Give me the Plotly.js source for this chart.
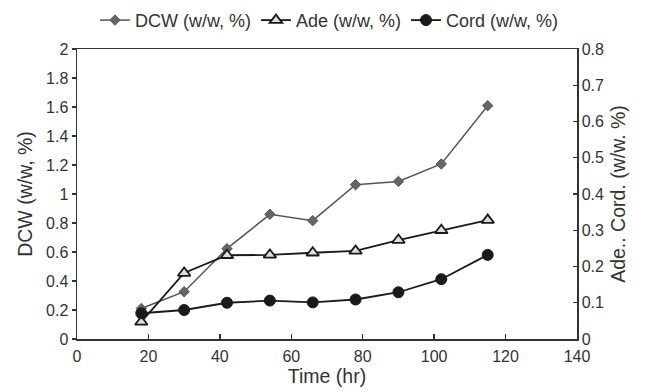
<!DOCTYPE html>
<html>
<head>
<meta charset="utf-8">
<script src="https://cdn.plot.ly/plotly-3.0.1.min.js"></script>
<style>html,body{margin:0;padding:0;background:#fff}#chart{width:646px;height:392px}</style>
</head>
<body>
<div id="chart"></div>
<script>
const timeHr = [18, 30, 42, 54, 66, 78, 90, 102, 115];
const dcw = [0.21, 0.326, 0.623, 0.86, 0.816, 1.064, 1.087, 1.207, 1.609];
const ade = [0.047, 0.182, 0.231, 0.232, 0.238, 0.243, 0.273, 0.30, 0.328];
const cord = [0.071, 0.08, 0.1, 0.106, 0.101, 0.109, 0.129, 0.165, 0.232];
const xTicks = [0, 20, 40, 60, 80, 100, 120, 140];

const font = {family: 'Liberation Sans, Arial, sans-serif', color: '#333'};

const traces = [
  {x: timeHr, y: dcw, name: 'DCW (w/w, %)', type: 'scatter', mode: 'lines+markers',
   line: {color: '#555', width: 1.5},
   marker: {symbol: 'diamond', size: 8, color: '#666', line: {color: '#555', width: 1}}},
  {x: timeHr, y: ade, name: 'Ade (w/w, %)', type: 'scatter', mode: 'lines+markers', yaxis: 'y2',
   line: {color: '#1a1a1a', width: 1.8},
   marker: {symbol: 'triangle-up', size: 11, color: '#ddd', line: {color: '#1a1a1a', width: 1.8}}},
  {x: timeHr, y: cord, name: 'Cord (w/w, %)', type: 'scatter', mode: 'lines+markers', yaxis: 'y2',
   line: {color: '#1a1a1a', width: 1.8},
   marker: {symbol: 'circle', size: 11, color: '#1a1a1a', line: {color: '#1a1a1a', width: 1}}}
];

const layout = {
  width: 646, height: 392,
  margin: {l: 77, r: 69, t: 49, b: 53, autoexpand: false},
  paper_bgcolor: '#fff', plot_bgcolor: '#fff',
  font: Object.assign({size: 16}, font),
  showlegend: true,
  legend: {orientation: 'h', xref: 'container', yref: 'container',
           x: 0.51, xanchor: 'center', y: 0.948, yanchor: 'middle',
           font: Object.assign({size: 18}, font), itemwidth: 30, tracegroupgap: 0},
  xaxis: {range: [0, 140], tickvals: xTicks, ticktext: xTicks.map(String),
          ticks: 'inside', ticklen: 5, tickcolor: '#333', tickwidth: 1.3,
          showline: true, linecolor: '#333', linewidth: 1.5, mirror: true,
          showgrid: false, zeroline: false, ticklabelstandoff: 2,
          tickfont: Object.assign({size: 16}, font),
          title: {text: 'Time (hr)', font: Object.assign({size: 19.5}, font), standoff: 1}},
  yaxis: {range: [0, 2], dtick: 0.2, ticks: 'outside', ticklen: 4, tickcolor: '#333', tickwidth: 1.3,
          showline: true, linecolor: '#333', linewidth: 1.5,
          showgrid: false, zeroline: false,
          tickfont: Object.assign({size: 16}, font),
          title: {text: 'DCW (w/w, %)', font: Object.assign({size: 19.5}, font), standoff: 8}},
  yaxis2: {range: [0, 0.8], dtick: 0.1, overlaying: 'y', side: 'right',
           ticks: 'inside', ticklen: 4, tickcolor: '#333', tickwidth: 1.3,
           showline: true, linecolor: '#333', linewidth: 1.5,
           showgrid: false, zeroline: false,
           tickfont: Object.assign({size: 16}, font),
           title: {text: 'Ade.. Cord. (w/w. %)', font: Object.assign({size: 19.5}, font), standoff: 8}}
};

Plotly.newPlot('chart', traces, layout, {displayModeBar: false, staticPlot: true});
</script>
</body>
</html>
